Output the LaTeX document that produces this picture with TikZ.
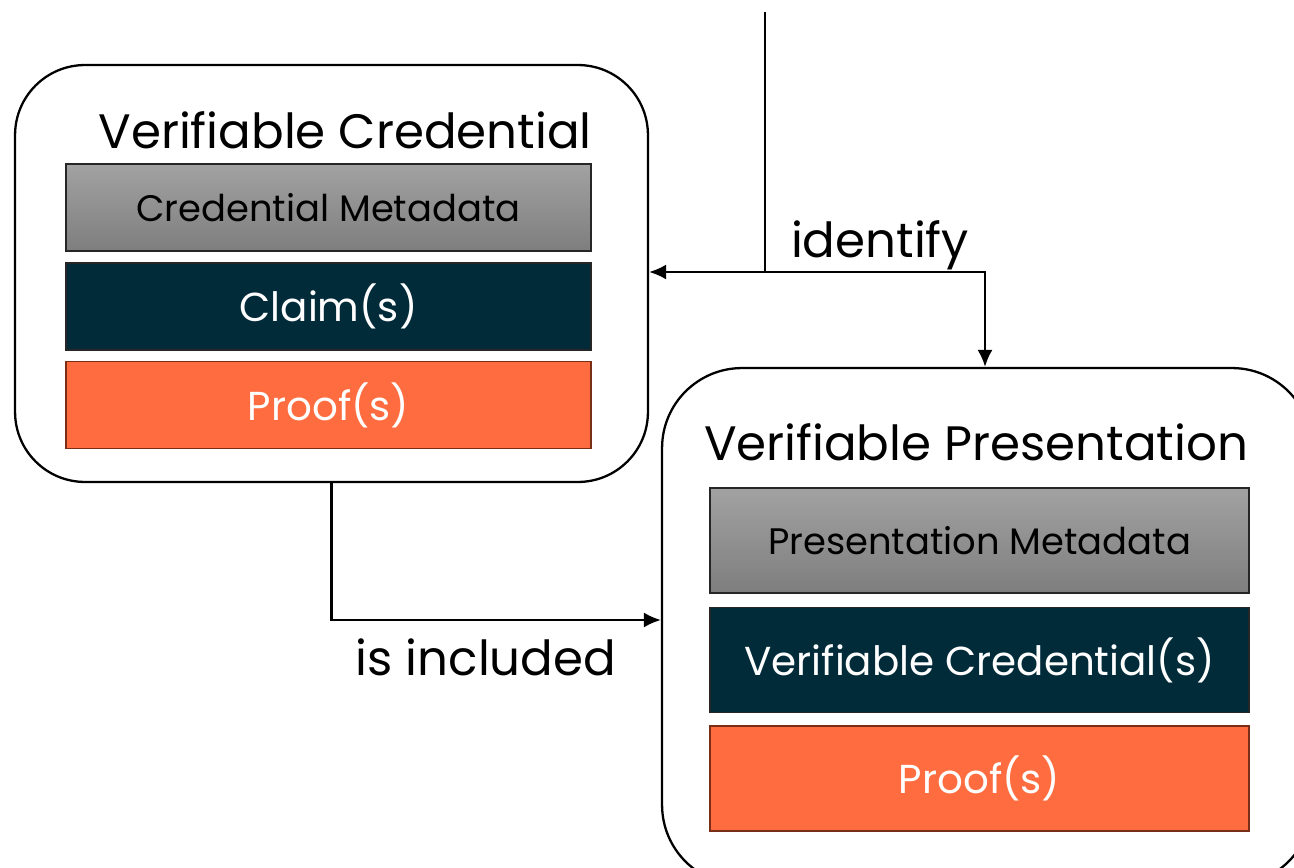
\documentclass[tikz,border=0pt]{standalone}
\usepackage{fontspec}
\setmainfont{Poppins}
\usepackage{xcolor}
\usetikzlibrary{positioning,calc,arrows.meta}
\definecolor{metatop}{RGB}{162,162,162}
\definecolor{metabot}{RGB}{126,126,126}
\definecolor{claimblue}{RGB}{2,43,58}
\definecolor{prooforange}{RGB}{255,108,64}
\definecolor{proofedge}{RGB}{122,46,24}

\begin{document}
\begin{tikzpicture}[
					x=0.02cm, y=-0.02cm,
					% Khung lớn bo góc
					outerbox/.style={
						draw=black,
						line width=1.3pt,
						rounded corners=1.4cm,
						anchor=center
					},
					% Các ô bên trong
					layer/.style={
						draw=black!85,
						line width=0.8pt,
						minimum width=10.5cm,
						minimum height=1.74cm,
						anchor=center
					},
					meta/.style={layer, top color=metatop, bottom color=metabot, text=black,
						font=\fontsize{21}{25}\selectfont},
					claim/.style={layer, fill=claimblue, text=white,
						font=\fontsize{23}{28}\selectfont},
					proof/.style={layer, fill=prooforange, draw=proofedge, text=white,
						font=\fontsize{23}{28}\selectfont},
					title/.style={font=\fontsize{27.5}{33}\selectfont, anchor=center},
					link/.style={line width=1.3pt, -{Latex[length=0.34cm,width=0.3cm]}}
					]
					\clip (0,0) rectangle (1294,868);
					
					% Verifiable Credential (trái trên)
					\node[outerbox, minimum width=12.66cm, minimum height=8.34cm] (vc) at (331.5, 273.5) {};
					\node[title] (vctitle) at (345, 130) {Verifiable Credential};
					\node[meta]  (vcmeta)  at (328.5, 207.5) {Credential Metadata};
					\node[claim] (vcclaim) at (328.5, 306.5) {Claim(s)};
					\node[proof] (vcproof) at (328.5, 405)   {Proof(s)};
					
					% Verifiable Presentation (phải dưới), tràn ra ngoài mép
					\node[outerbox, rounded corners=1.6cm, minimum width=13cm, minimum height=10.34cm] (vp) at (987, 626.5) {};
					\node[title] (vptitle) at (976, 442) {Verifiable Presentation};
					\node[meta, minimum width=10.78cm, minimum height=2.1cm]  (vpmeta)  at (979.5, 540.5) {Presentation Metadata};
					\node[claim, minimum width=10.78cm, minimum height=2.1cm] (vpcred)  at (979.5, 660)   {Verifiable Credential(s)};
					\node[proof, minimum width=10.78cm, minimum height=2.1cm] (vpproof) at (979.5, 778.5) {Proof(s)};
					
					% Mũi tên "identify"
					\coordinate (top)  at (765, 12);
					\coordinate (junc) at (765, 272);
					\draw[line width=1.3pt] (top) -- (junc);
					\draw[link] (junc) -- (vc.east |- junc);
					\draw[link] (junc) -| ([xshift=-0.04cm]vp.north);
					\node[title] (identify) at (880, 245) {identify};
					
					% Mũi tên "is included"
					\draw[link] (vc.south) |- ($(vp.west)+(0,-6.5)$);
					\node[title] (included) at (486, 657) {is included};
				\end{tikzpicture}
\end{document}
